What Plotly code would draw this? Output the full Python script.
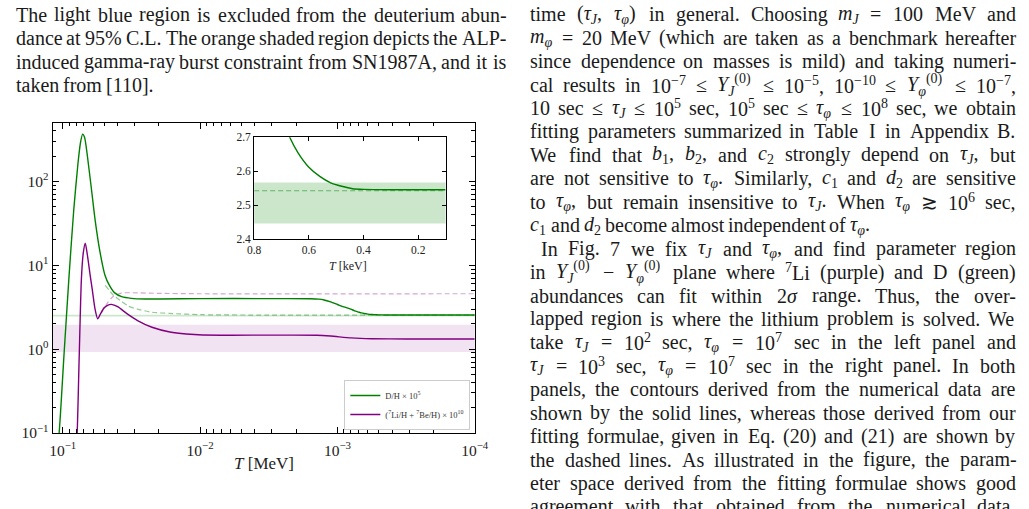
import re
import plotly.graph_objects as go

W, H = 1029, 509
SERIF = "Liberation Serif, DejaVu Serif, serif"

# ---------------- data ----------------
# D/H x 1e5, numerical (solid green)
T_DH = [0.1084, 0.1062, 0.0977, 0.0902, 0.0832, 0.0776, 0.0741, 0.0716, 0.0692, 0.0661,
        0.0617, 0.0581, 0.0537, 0.0493, 0.0457, 0.0418, 0.0372, 0.0316, 0.0251, 0.01,
        0.00316, 0.00158, 0.00137, 0.00125, 0.00112, 0.0010, 0.0009, 0.0008, 0.00075,
        0.0007, 0.00067, 0.00064, 0.0006, 0.00056, 0.00052, 0.00048, 0.00044, 0.0004,
        0.0003, 0.0002, 0.0001]
DH = [0.08, 0.1, 0.89, 6.92, 44.7, 158, 295, 366, 331, 200,
      79.4, 34.7, 14.8, 7.66, 5.75, 4.68, 4.22, 4.03, 3.96, 4.0,
      4.0, 3.98, 3.94, 3.85, 3.65, 3.40, 3.18, 3.00, 2.86,
      2.76, 2.70, 2.655, 2.612, 2.585, 2.566, 2.556, 2.549, 2.547,
      2.546, 2.546, 2.546]

# (7Li/H + 7Be/H) x 1e10, numerical (solid purple)
T_LI = [0.0794, 0.0785, 0.0759, 0.0731, 0.0708, 0.0685, 0.0661, 0.0631, 0.0608, 0.0582,
        0.0556, 0.0531, 0.0501, 0.0468, 0.0442, 0.0398, 0.0339, 0.0285, 0.0224, 0.0166,
        0.0126, 0.00955, 0.00316, 0.00141, 0.00112, 0.000794, 0.000562, 0.000316, 0.0001]
LI = [0.083, 0.1, 0.78, 6.9, 14.1, 18.3, 13.2, 7.59, 5.01, 3.02,
      2.29, 2.63, 3.09, 3.35, 3.41, 3.20, 2.63, 2.19, 1.82, 1.60,
      1.51, 1.47, 1.466, 1.462, 1.43, 1.36, 1.33, 1.32, 1.32]

# fitting formula (dashed)
T_DH_FIT = [0.049, 0.0427, 0.0375, 0.0331, 0.0285, 0.0224, 0.0166, 0.00955, 0.00316, 0.0001]
DH_FIT = [5.75, 4.37, 3.73, 3.24, 2.99, 2.75, 2.66, 2.57, 2.543, 2.543]
T_LI_FIT = [0.052, 0.0468, 0.0427, 0.0375, 0.0316, 0.02, 0.01, 0.0001]
LI_FIT = [2.74, 3.63, 4.27, 4.66, 4.70, 4.62, 4.57, 4.57]

# observational 2-sigma bands
DH_BAND = [2.447, 2.567]
LI_BAND = [0.92, 1.95]
BAND_T = [1.0, 1e-5]          # MeV, spans whole axis
BAND_T_KEV = [1.0, 0.0]

# ticks
X_MAJOR = [0.1, 0.01, 0.001, 0.0001]
X_MAJOR_TXT = ["10<sup>−1</sup>", "10<sup>−2</sup>", "10<sup>−3</sup>", "10<sup>−4</sup>"]
X_MINOR = [0.02, 0.03, 0.04, 0.05, 0.06, 0.07, 0.08, 0.09,
           0.002, 0.003, 0.004, 0.005, 0.006, 0.007, 0.008, 0.009,
           0.0002, 0.0003, 0.0004, 0.0005, 0.0006, 0.0007, 0.0008, 0.0009]
Y_MAJOR = [0.1, 1, 10, 100]
Y_MAJOR_TXT = ["10<sup>−1</sup>", "10<sup>0</sup>", "10<sup>1</sup>", "10<sup>2</sup>"]
Y_MINOR = [0.2, 0.3, 0.4, 0.5, 0.6, 0.7, 0.8, 0.9,
           2, 3, 4, 5, 6, 7, 8, 9,
           20, 30, 40, 50, 60, 70, 80, 90,
           200, 300, 400, 500]
INSET_X = [0.8, 0.6, 0.4, 0.2]
INSET_X_TXT = ["0.8", "0.6", "0.4", "0.2"]
INSET_Y = [2.4, 2.5, 2.6, 2.7]
INSET_Y_TXT = ["2.4", "2.5", "2.6", "2.7"]

# ---------------- surrounding page text ----------------
LEFT_LINES = [
    "The light blue region is excluded from the deuterium abun-",
    "dance at 95% C.L. The orange shaded region depicts the ALP-",
    "induced gamma-ray burst constraint from SN1987A, and it is",
    "taken from [110].",
]
LEFT_RAGGED = [3]
TJ = "<i>τ</i><sub><i>J</i></sub>"
TP = "<i>τ</i><sub><i>φ</i></sub>"
RIGHT_LINES = [
    f"time ({TJ}, {TP}) in general. Choosing <i>m</i><sub><i>J</i></sub> = 100 MeV and",
    "<i>m</i><sub><i>φ</i></sub> = 20 MeV (which are taken as a benchmark hereafter",
    "since dependence on masses is mild) and taking numeri-",
    "cal results in 10<sup>−7</sup> ≤ <i>Y</i><sub><i>J</i></sub><sup>(0)</sup> ≤ 10<sup>−5</sup>, "
    "10<sup>−10</sup> ≤ <i>Y</i><sub><i>φ</i></sub><sup>(0)</sup> ≤ 10<sup>−7</sup>,",
    f"10 sec ≤ {TJ} ≤ 10<sup>5</sup> sec, 10<sup>5</sup> sec ≤ {TP} ≤ 10<sup>8</sup> sec, we obtain",
    "fitting parameters summarized in Table I in Appendix B.",
    f"We find that <i>b</i><sub>1</sub>, <i>b</i><sub>2</sub>, and <i>c</i><sub>2</sub> strongly depend on {TJ}, but",
    f"are not sensitive to {TP}. Similarly, <i>c</i><sub>1</sub> and <i>d</i><sub>2</sub> are sensitive",
    f"to {TP}, but remain insensitive to {TJ}. When {TP} ≳ 10<sup>6</sup> sec,",
    f"<i>c</i><sub>1</sub> and <i>d</i><sub>2</sub> become almost independent of {TP}.",
    f"In Fig. 7 we fix {TJ} and {TP}, and find parameter region",
    "in <i>Y</i><sub><i>J</i></sub><sup>(0)</sup> − <i>Y</i><sub><i>φ</i></sub><sup>(0)</sup> plane where "
    "<sup>7</sup>Li (purple) and D (green)",
    "abundances can fit within 2<i>σ</i> range. Thus, the over-",
    "lapped region is where the lithium problem is solved. We",
    f"take {TJ} = 10<sup>2</sup> sec, {TP} = 10<sup>7</sup> sec in the left panel and",
    f"{TJ} = 10<sup>3</sup> sec, {TP} = 10<sup>7</sup> sec in the right panel. In both",
    "panels, the contours derived from the numerical data are",
    "shown by the solid lines, whereas those derived from our",
    "fitting formulae, given in Eq. (20) and (21) are shown by",
    "the dashed lines. As illustrated in the figure, the param-",
    "eter space derived from the fitting formulae shows good",
    "agreement with that obtained from the numerical data.",
]
RIGHT_RAGGED = [9]
RIGHT_INDENT = [10]

GREEN = "#008000"
PURPLE = "#800080"

fig = go.Figure()

# bands (main)
fig.add_trace(go.Scatter(x=BAND_T + BAND_T[::-1], y=[LI_BAND[0]] * 2 + [LI_BAND[1]] * 2,
                         fill="toself", fillcolor="rgba(128,0,128,0.11)", line=dict(width=0),
                         mode="lines", showlegend=False, hoverinfo="skip"))
fig.add_trace(go.Scatter(x=BAND_T + BAND_T[::-1], y=[DH_BAND[0]] * 2 + [DH_BAND[1]] * 2,
                         fill="toself", fillcolor="rgba(0,128,0,0.2)", line=dict(width=0),
                         mode="lines", showlegend=False, hoverinfo="skip"))
# dashed fits
fig.add_trace(go.Scatter(x=T_LI_FIT, y=LI_FIT, mode="lines",
                         line=dict(color="rgba(128,0,128,0.35)", width=1.2, dash="5px,3px",
                                   shape="spline", smoothing=0.6),
                         showlegend=False, hoverinfo="skip"))
fig.add_trace(go.Scatter(x=T_DH_FIT, y=DH_FIT, mode="lines",
                         line=dict(color="rgba(0,128,0,0.42)", width=1.2, dash="5px,3px",
                                   shape="spline", smoothing=0.6),
                         showlegend=False, hoverinfo="skip"))
# solid numerical
fig.add_trace(go.Scatter(x=T_DH, y=DH, mode="lines", name="D/H × 10<sup>5</sup>",
                         line=dict(color=GREEN, width=1.4, shape="spline", smoothing=0.6)))
fig.add_trace(go.Scatter(x=T_LI, y=LI, mode="lines",
                         name="(<sup>7</sup>Li/H + <sup>7</sup>Be/H) × 10<sup>10</sup>",
                         line=dict(color=PURPLE, width=1.4, shape="spline", smoothing=0.6)))

# inset
T_DH_KEV = [t * 1000 for t in T_DH]
T_DH_FIT_KEV = [t * 1000 for t in T_DH_FIT]
fig.add_trace(go.Scatter(x=BAND_T_KEV + BAND_T_KEV[::-1], y=[DH_BAND[0]] * 2 + [DH_BAND[1]] * 2,
                         fill="toself", fillcolor="rgba(0,128,0,0.2)", line=dict(width=0),
                         mode="lines", showlegend=False, hoverinfo="skip", xaxis="x2", yaxis="y2"))
fig.add_trace(go.Scatter(x=T_DH_FIT_KEV, y=DH_FIT, mode="lines", xaxis="x2", yaxis="y2",
                         line=dict(color="rgba(0,128,0,0.5)", width=1.1, dash="5px,3px"),
                         showlegend=False, hoverinfo="skip"))
fig.add_trace(go.Scatter(x=T_DH_KEV, y=DH, mode="lines", xaxis="x2", yaxis="y2",
                         line=dict(color=GREEN, width=1.4, shape="spline", smoothing=0.6),
                         showlegend=False, hoverinfo="skip"))

axis_common = dict(showline=True, mirror="allticks", linecolor="black", linewidth=1,
                   ticks="inside", tickcolor="black", tickwidth=1, showgrid=False, zeroline=False,
                   tickmode="array")

fig.update_layout(
    width=W, height=H, margin=dict(l=0, r=0, t=0, b=0),
    paper_bgcolor="white", plot_bgcolor="white",
    xaxis=dict(type="log", range=[-0.926, -4.0], domain=[46.5 / W, 477.5 / W], anchor="y",
               tickvals=X_MAJOR, ticktext=X_MAJOR_TXT, ticklen=6, ticklabelstandoff=3,
               tickfont=dict(family=SERIF, size=15.5, color="#222"),
               minor=dict(ticks="inside", ticklen=3.5, tickcolor="black", tickmode="array",
                          tickvals=X_MINOR, showgrid=False),
               **axis_common),
    yaxis=dict(type="log", range=[-1, 2.7], domain=[1 - 439 / H, 1 - 120 / H], anchor="x",
               tickvals=Y_MAJOR, ticktext=Y_MAJOR_TXT, ticklen=6,
               tickfont=dict(family=SERIF, size=15.5, color="#222"),
               minor=dict(ticks="inside", ticklen=3.5, tickcolor="black", tickmode="array",
                          tickvals=Y_MINOR, showgrid=False),
               **axis_common),
    xaxis2=dict(range=[0.8, 0.1], domain=[252.3 / W, 447.7 / W], anchor="y2",
                tickvals=INSET_X, ticktext=INSET_X_TXT, ticklen=4,
                tickfont=dict(family=SERIF, size=11.5, color="#222"), **axis_common),
    yaxis2=dict(range=[2.4, 2.7], domain=[1 - 240 / H, 1 - 135 / H], anchor="x2",
                tickvals=INSET_Y, ticktext=INSET_Y_TXT, ticklen=4,
                tickfont=dict(family=SERIF, size=11.5, color="#222"), **axis_common),
    legend=dict(x=473 / W, y=1 - 436 / H, xanchor="right", yanchor="bottom",
                bgcolor="rgba(255,255,255,0.85)", bordercolor="#cccccc", borderwidth=1,
                font=dict(family=SERIF, size=8.5, color="#333"), itemwidth=30,
                tracegroupgap=0),
)

ann = []
ann.append(dict(text="<i>T</i> [MeV]", x=262 / W, y=1 - 470 / H, xref="paper", yref="paper",
                showarrow=False, xanchor="center", yanchor="middle",
                font=dict(family=SERIF, size=17, color="#222")))
ann.append(dict(text="<i>T</i> [keV]", x=348 / W, y=1 - 267 / H, xref="paper", yref="paper",
                showarrow=False, xanchor="center", yanchor="middle",
                font=dict(family=SERIF, size=12, color="#222")))

# ---------- justified page text, word by word (Times/Liberation metrics) ----------
CW = {' ': 250, '!': 333, '%': 833, '(': 333, ')': 333, ',': 250, '-': 333, '.': 250,
      '/': 278, ':': 278, ';': 278, '=': 564, '[': 333, ']': 333, '+': 564,
      'A': 722, 'B': 667, 'C': 667, 'D': 722, 'E': 611, 'F': 556, 'G': 722, 'H': 722,
      'I': 333, 'J': 389, 'K': 722, 'L': 611, 'M': 889, 'N': 722, 'O': 722, 'P': 556,
      'Q': 722, 'R': 667, 'S': 556, 'T': 611, 'U': 722, 'V': 722, 'W': 944, 'X': 722,
      'Y': 722, 'Z': 611,
      'a': 444, 'b': 500, 'c': 444, 'd': 500, 'e': 444, 'f': 333, 'g': 500, 'h': 500,
      'i': 278, 'j': 278, 'k': 500, 'l': 278, 'm': 778, 'n': 500, 'o': 500, 'p': 500,
      'q': 500, 'r': 333, 's': 389, 't': 278, 'u': 500, 'v': 500, 'w': 722, 'x': 500,
      'y': 500, 'z': 444,
      'τ': 440, 'φ': 540, 'σ': 540, '≤': 549, '≳': 838, '−': 564, '×': 564}
TAG = re.compile(r"(</?(?:i|sub|sup)>)")
PAD = "<sup>\u200b</sup><sub>\u200b</sub>"   # equalises box height of every word


def word_width(word, size):
    w, scale = 0.0, 1.0
    for part in TAG.split(word):
        if part in ("<sub>", "<sup>"):
            scale = 0.7
        elif part in ("</sub>", "</sup>"):
            scale = 1.0
        elif part in ("<i>", "</i>"):
            continue
        else:
            for ch in part:
                w += CW.get(ch, 500) * scale
    return w * size / 1000.0


def set_lines(lines, x_left, x_right, y_first, line_h, size, ragged=(), indent=(), indent_px=11):
    out = []
    for k, line in enumerate(lines):
        words = line.split()
        x0 = x_left + (indent_px if k in indent else 0)
        widths = [word_width(wd, size) for wd in words]
        if k in ragged or len(words) < 2:
            gap = CW[' '] * size / 1000.0
        else:
            gap = (x_right - x0 - sum(widths)) / (len(words) - 1)
        x = x0
        yc = y_first + k * line_h
        for wd, wdt in zip(words, widths):
            out.append(dict(text=wd + PAD, x=x / W, y=1 - yc / H, xref="paper", yref="paper",
                            showarrow=False, xanchor="left", yanchor="middle", borderpad=0,
                            font=dict(family=SERIF, size=size, color="#1a1a1a")))
            x += wdt + gap
    return out


TXT_SIZE = 20
LINE_H = 24.1
ann += set_lines(LEFT_LINES, 8, 508, 9.0, LINE_H, TXT_SIZE, ragged=LEFT_RAGGED)
ann += set_lines(RIGHT_LINES, 533, 1028, 8.5, LINE_H, TXT_SIZE, ragged=RIGHT_RAGGED,
                 indent=RIGHT_INDENT)
fig.update_layout(annotations=ann)

fig.write_html("out.html")
